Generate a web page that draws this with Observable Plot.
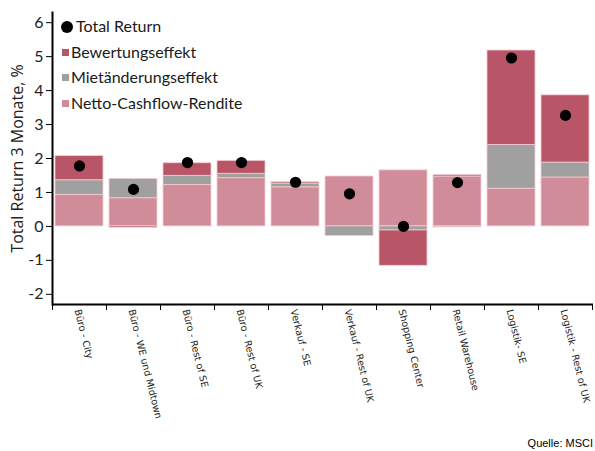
<!DOCTYPE html>
<html>
<head>
<meta charset="utf-8">
<script src="https://cdn.jsdelivr.net/npm/d3@7"></script>
<script src="https://cdn.jsdelivr.net/npm/@observablehq/plot@0.6"></script>
<style>
  html, body { margin: 0; padding: 0; background: #fff; }
  #wrap { position: relative; width: 595px; height: 451px; }
  .leg { position: absolute; font-family: Lato, sans-serif; font-size: 16px; color: #1a1a1a; white-space: nowrap; }
  .sw { display: inline-block; width: 7px; height: 7px; margin-right: 2px; vertical-align: 2px; }
  .dotsw { display: inline-block; width: 12px; height: 12px; border-radius: 50%; background: #000; margin-right: 3px; vertical-align: -1px; }
  #cap { position: absolute; right: 2px; top: 437px; font-family: "Liberation Sans", Arial, sans-serif; font-size: 11px; color: #000; }
</style>
</head>
<body>
<div id="wrap"></div>
<script>
const categories = ["Büro - City", "Büro - WE und Midtown", "Büro - Rest of SE", "Büro - Rest of UK", "Verkauf - SE", "Verkauf - Rest of UK", "Shopping Center", "Retail Warehouse", "Logistik- SE", "Logistik - Rest of UK"];
const netto      = [0.93, 0.83, 1.22, 1.42, 1.15, 1.47, 1.65, 1.47, 1.11, 1.44];
const mietaend   = [0.43, 0.57, 0.27, 0.13, 0.11, -0.28, -0.12, -0.03, 1.29, 0.44];
const bewertung  = [0.71, -0.04, 0.37, 0.38, 0.04, 0.0, -1.04, 0.04, 2.78, 1.98];
const total      = [1.78, 1.09, 1.88, 1.88, 1.30, 0.96, 0.00, 1.29, 4.96, 3.27];
const seriesNames = ["Netto-Cashflow-Rendite", "Mietänderungseffekt", "Bewertungseffekt"];
const seriesColors = ["#d08c98", "#a0a0a0", "#b85567"];
const yTicks = [-2, -1, 0, 1, 2, 3, 4, 5, 6];

const rows = [];
categories.forEach((c, i) => {
  rows.push({cat: c, series: seriesNames[0], value: netto[i]});
  rows.push({cat: c, series: seriesNames[1], value: mietaend[i]});
  rows.push({cat: c, series: seriesNames[2], value: bewertung[i]});
});
const totals = categories.map((c, i) => ({cat: c, value: total[i]}));

const chart = Plot.plot({
  width: 595,
  height: 451,
  marginLeft: 52,
  marginTop: 12,
  marginRight: 2,
  marginBottom: 147,
  style: {background: "#fff"},
  x: {domain: categories, paddingInner: 0.11, paddingOuter: 0.055, label: null},
  y: {domain: [-2.3, 6.3], label: null},
  color: {domain: seriesNames, range: seriesColors},
  marks: [
    Plot.barY(rows, {x: "cat", y: "value", fill: "series", stroke: "#f2ccd3", strokeWidth: 0.8}),
    Plot.dot(totals, {x: "cat", y: "value", r: 5.6, fill: "#000"}),
    Plot.axisY({ticks: yTicks, tickFormat: d => String(d), tickSize: 6, tickPadding: 3, fontSize: 16, fontFamily: "Lato, sans-serif", label: null, stroke: "#000", color: "#222"}),
    Plot.axisX({tickSize: 6, dx: -27, tickFormat: () => "", label: null}),
    Plot.axisX({ticks: [categories[categories.length - 1]], tickSize: 6, dx: 27, tickFormat: () => "", label: null}),
    Plot.axisX({tickSize: 0, tickRotate: 76, tickPadding: 5, dx: -2, fontSize: 9.6, fontFamily: "DejaVu Sans, sans-serif", label: null, color: "#222"}),
    Plot.text(["Total Return 3 Monate, %"], {frameAnchor: "left", textAnchor: "middle", rotate: -90, dx: -35, fontSize: 16, fontFamily: "Open Sans, sans-serif", fill: "#222"}),
    Plot.ruleY([-2.3], {stroke: "#000", strokeWidth: 2}),
    Plot.frame({anchor: "left", stroke: "#000", strokeWidth: 2})
  ]
});

const wrap = document.getElementById("wrap");
wrap.appendChild(chart);

const legendItems = [
  {label: "Total Return", kind: "dot"},
  {label: seriesNames[2], color: seriesColors[2]},
  {label: seriesNames[1], color: seriesColors[1]},
  {label: seriesNames[0], color: seriesColors[0]}
];
legendItems.forEach((it, i) => {
  const d = document.createElement("div");
  d.className = "leg";
  d.style.left = (it.kind === "dot" ? 61 : 62) + "px";
  d.style.top = (16 + i * 25.5) + "px";
  const sw = document.createElement("span");
  if (it.kind === "dot") sw.className = "dotsw";
  else { sw.className = "sw"; sw.style.background = it.color; }
  d.appendChild(sw);
  d.appendChild(document.createTextNode(it.label));
  wrap.appendChild(d);
});

const cap = document.createElement("div");
cap.id = "cap";
cap.textContent = "Quelle: MSCI";
wrap.appendChild(cap);
</script>
</body>
</html>
